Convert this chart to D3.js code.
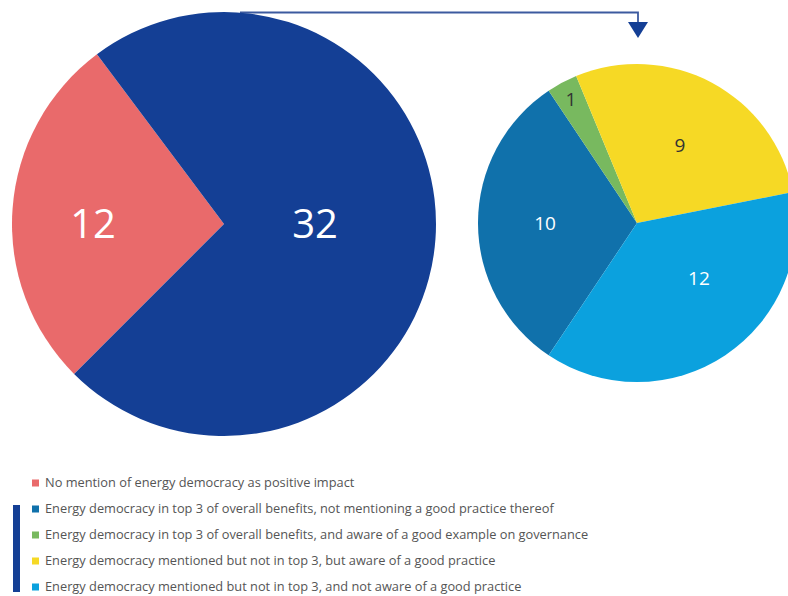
<!DOCTYPE html>
<meta charset="utf-8">
<style>
  body { margin: 0; background: #fff; }
  text { font-family: "Open Sans", sans-serif; }
</style>
<body>
<script src="https://cdn.jsdelivr.net/npm/d3@7"></script>
<script>

// overall answers (big pie)
var mainLabels = ["No mention", "Energy democracy mentioned"];
var mainValues = [12, 32];
var mainColors = ["#e96a6b", "#143f95"];

// breakdown of the 32 (small pie)
var subLabels = ["top 3, no good practice", "top 3, good example", "not top 3, aware", "not top 3, not aware"];
var subValues = [10, 1, 9, 12];
var subColors = ["#1071ab", "#78b95f", "#f6d925", "#0ba1de"];
var subText = ["#fff", "#333", "#333", "#fff"];

var legendItems = [
  "No mention of energy democracy as positive impact",
  "Energy democracy in top 3 of overall benefits, not mentioning a good practice thereof",
  "Energy democracy in top 3 of overall benefits, and aware of a good example on governance",
  "Energy democracy mentioned but not in top 3, but aware of a good practice",
  "Energy democracy mentioned but not in top 3, and not aware of a good practice"
];
var legendColors = ["#e96a6b", "#1071ab", "#78b95f", "#f6d925", "#0ba1de"];

var width = 788, height = 596;

var svg = d3.select("body").append("svg")
    .attr("width", width)
    .attr("height", height);

// arrow from big pie to small pie
svg.append("path")
    .attr("d", "M240,12.5 H638 V24")
    .attr("fill", "none")
    .attr("stroke", "#3c5a9f")
    .attr("stroke-width", 1.8);
svg.append("path")
    .attr("d", "M628,22 L648,22 L638,38 Z")
    .attr("fill", "#143f95");

// big pie
var bigR = 212;
var big = svg.append("g").attr("transform", "translate(224,224)");
var bigPie = d3.pie().sort(null)
    .startAngle(-0.75 * Math.PI)
    .endAngle(1.25 * Math.PI);
var bigArc = d3.arc().innerRadius(0).outerRadius(bigR);
var bigArcs = bigPie(mainValues);

big.selectAll("path")
    .data(bigArcs)
  .enter().append("path")
    .attr("d", bigArc)
    .attr("fill", function(d, i) { return mainColors[i]; });

big.selectAll("text")
    .data(bigArcs)
  .enter().append("text")
    .attr("x", function(d, i) { return i == 0 ? -131 : 91; })
    .attr("y", 0)
    .attr("dy", "0.36em")
    .attr("text-anchor", "middle")
    .attr("fill", "#fff")
    .style("font-size", "40px")
    .text(function(d) { return d.data; });

// small pie
var smallR = 159;
var small = svg.append("g").attr("transform", "translate(637,223)");
var start = 213.75 * Math.PI / 180;
var smallPie = d3.pie().sort(null)
    .startAngle(start)
    .endAngle(start + 2 * Math.PI);
var smallArc = d3.arc().innerRadius(0).outerRadius(smallR);
var smallArcs = smallPie(subValues);

small.selectAll("path")
    .data(smallArcs)
  .enter().append("path")
    .attr("d", smallArc)
    .attr("fill", function(d, i) { return subColors[i]; });

// label placement per slice (radius, angle shift in degrees)
var labelR = [92, 140, 89, 83];
var labelShift = [0, 0, 0.8, -14.5];
small.selectAll("text")
    .data(smallArcs)
  .enter().append("text")
    .attr("transform", function(d, i) {
      var a = (d.startAngle + d.endAngle) / 2 + labelShift[i] * Math.PI / 180;
      return "translate(" + (Math.sin(a) * labelR[i]) + "," + (-Math.cos(a) * labelR[i]) + ")";
    })
    .attr("dy", "0.35em")
    .attr("text-anchor", "middle")
    .attr("fill", function(d, i) { return subText[i]; })
    .style("font-size", "19px")
    .text(function(d) { return d.data; });

// legend
var legend = svg.append("g");
legend.append("rect")
    .attr("x", 13).attr("y", 505)
    .attr("width", 7).attr("height", 87)
    .attr("fill", "#143f95");

var rows = legend.selectAll("g.row")
    .data(legendItems)
  .enter().append("g")
    .attr("class", "row")
    .attr("transform", function(d, i) { return "translate(32," + (483 + i * 26) + ")"; });

rows.append("rect")
    .attr("x", 0).attr("y", -3.5)
    .attr("width", 7).attr("height", 7)
    .attr("fill", function(d, i) { return legendColors[i]; });

rows.append("text")
    .attr("x", 13)
    .attr("y", 0)
    .attr("dy", "0.33em")
    .attr("fill", "#555")
    .style("font-size", "12.8px")
    .text(function(d) { return d; });

</script>
</body>
